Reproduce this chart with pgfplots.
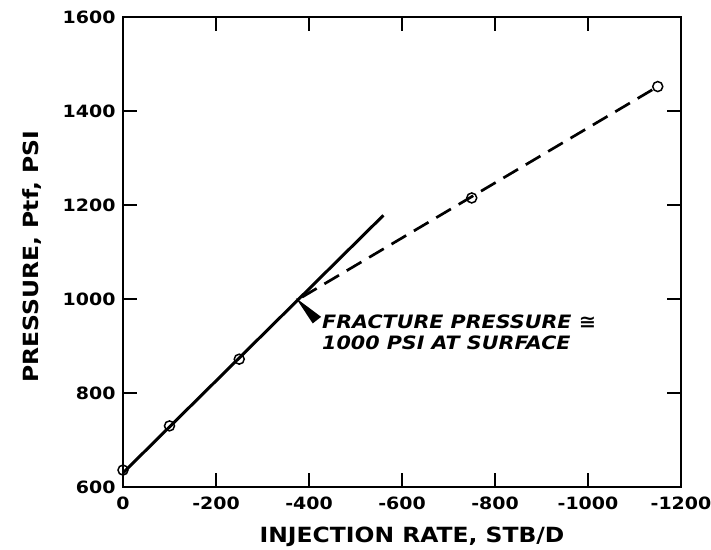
\documentclass[border=0pt]{standalone}
\usepackage{fontspec}
\setmainfont{DejaVu Sans}
\newfontfamily\wide[FakeStretch=1.12]{DejaVu Sans}
\usepackage{pgfplots}
\pgfplotsset{compat=1.18}
\begin{document}
\begin{tikzpicture}
\useasboundingbox (0,0) rectangle (711bp,550bp);
\begin{axis}[at={(123bp,63bp)}, anchor=south west, width=558bp, height=470bp, scale only axis,
 x dir=reverse, xmin=-1200, xmax=0, ymin=600, ymax=1600,
 xtick={0,-200,-400,-600,-800,-1000,-1200},
 xticklabels={0,-200,-400,-600,-800,-1000,-1200},
 ytick={600,800,1000,1200,1400,1600},
 yticklabels={600,800,1000,1200,1400,1600},
 tick align=inside, major tick length=14bp,
 tick style={line width=1.5pt, black},
 axis line style={line width=1.8pt},
 ticklabel style={font=\fontsize{17}{17}\selectfont\wide\bfseries},
 xticklabel style={yshift=-6bp},
 yticklabel style={xshift=-4bp},
 xlabel={INJECTION RATE, STB/D},
 ylabel={PRESSURE, Ptf, PSI},
 label style={font=\fontsize{21}{21}\selectfont\wide\bfseries},
 xlabel style={at={(axis description cs:0.518,-0.106)}, anchor=center},
 ylabel style={at={(axis description cs:-0.163,0.49)}, anchor=center},
 clip=false,
]
\addplot[black, line width=3pt] coordinates {(0,630) (-560,1178)};
\addplot[black, line width=2.7pt, dash pattern=on 17bp off 9bp] coordinates {(-385,1004) (-1150,1452)};
\addplot[only marks, mark=o, mark size=5bp, mark options={fill=white, line width=1.5pt}] coordinates {
(0,636) (-100,730) (-250,872) (-750,1215) (-1150,1452)};
\fill[black] (axis cs:-372,1002) -- (axis cs:-408,948) -- (axis cs:-426,962) -- cycle;
\node[anchor=west, align=left, inner sep=0pt, font=\fontsize{18.5}{21}\selectfont\wide\bfseries\itshape] at (axis cs:-428,930)
 {FRACTURE PRESSURE ≅\\1000 PSI AT SURFACE};
\end{axis}
\end{tikzpicture}
\end{document}
